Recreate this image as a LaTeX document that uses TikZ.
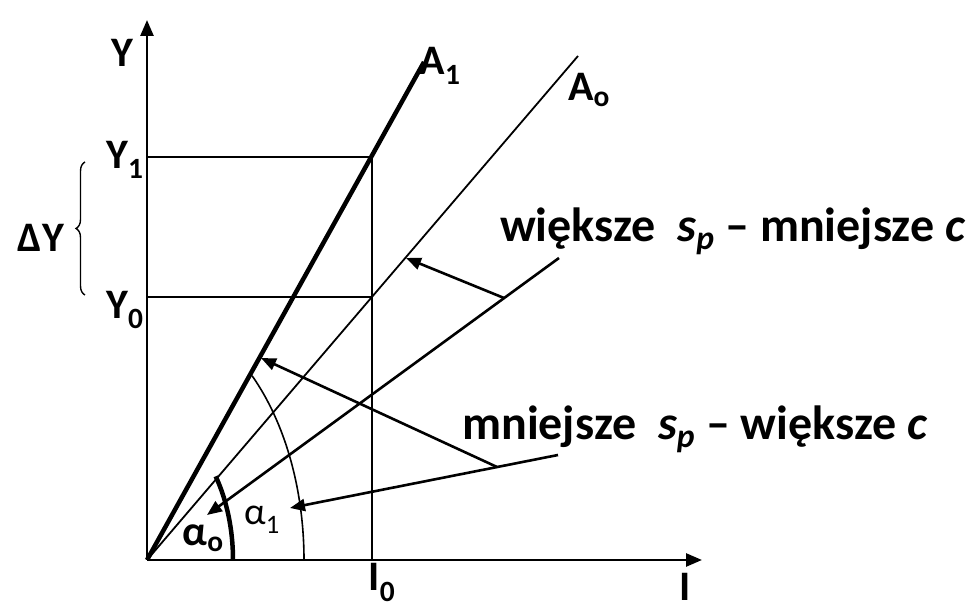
\documentclass[tikz,border=0pt]{standalone}
\usepackage{fontspec}
\setmainfont{Carlito}
\usetikzlibrary{arrows.meta,decorations.pathreplacing}

\begin{document}
\begin{tikzpicture}[x=1pt,y=1pt,
  font=\fontsize{42}{48}\selectfont\bfseries,
  axis/.style={line width=2.6pt,-{Triangle[length=16pt,width=13pt]}},
  guide/.style={line width=1.6pt},
  pointer/.style={line width=2.6pt,-{Triangle[length=15pt,width=12pt]}},
  lbl/.style={inner sep=0pt},
  remark/.style={lbl,anchor=base west,font=\fontsize{48}{54}\selectfont\bfseries}]
\useasboundingbox (-147,-52) rectangle (823,560);
% axes and points
\coordinate (O) at (0,0);
\coordinate (Ytop) at (0,540);
\coordinate (Xend) at (555,0);
\coordinate (A1top) at (277,498);
\coordinate (A0top) at (431,504);
\coordinate (Y1) at (0,403);
\coordinate (Y0) at (0,263);
\coordinate (P0) at (225,263);
\coordinate (I0) at (225,0);
\draw[axis] (O) -- (Ytop);
\draw[axis] (O) -- (Xend);
\draw[line width=4.5pt] (O) -- (A1top);
\draw[line width=1.8pt] (O) -- (A0top);
\draw[guide] (Y1) -| (I0);
\draw[guide] (Y0) -- (P0);
% pointer lines
\coordinate (upEnd) at (412,302);
\coordinate (upJoin) at (357,262);
\coordinate (upTip) at (60,45);
\coordinate (upHit) at (259,302);
\coordinate (lowEnd) at (411,105);
\coordinate (lowJoin) at (350,93);
\coordinate (lowTip) at (143,52);
\coordinate (lowHit) at (114,202);
\draw[pointer] (upEnd) -- (upTip);
\draw[pointer] (upJoin) -- (upHit);
\draw[pointer] (lowEnd) -- (lowTip);
\draw[pointer] (lowJoin) -- (lowHit);
% angles
\draw[line width=4.5pt] (86,0) arc[start angle=0,end angle=37,x radius=86pt,y radius=139pt];
\draw[line width=1.6pt] (157,0) arc[start angle=0,end angle=48,x radius=157pt,y radius=248pt];
% brace
\coordinate (brBot) at (-62,265);
\coordinate (brTop) at (-62,398);
\draw[line width=1.4pt,decorate,decoration={brace,amplitude=9pt}] (brBot) -- (brTop);
% labels
\node[lbl] (labY) at (-25,507) {Y};
\node[lbl] (labI) at (538,-27) {I};
\node[lbl,anchor=base] (labI0) at (235,-31) {I\textsubscript{0}};
\node[lbl] (labY1) at (-22,400) {Y\textsubscript{1}};
\node[lbl] (labY0) at (-22,250) {Y\textsubscript{0}};
\node[lbl] (labDY) at (-106,322) {ΔY};
\node[lbl] (labA1) at (293,494) {A\textsubscript{1}};
\node[lbl] (labA0) at (442,470) {A\textsubscript{o}};
\node[lbl] (labal0) at (56,22) {α\textsubscript{o}};
\node[lbl,font=\fontsize{38}{44}\selectfont] (labal1) at (115,40) {α\textsubscript{1}};
\node[remark] (txtUp) at (353,318) {większe\ \ \textit{s\textsubscript{p}} – mniejsze \textit{c}};
\node[remark] (txtLow) at (315,120) {mniejsze\ \ \textit{s\textsubscript{p}} – większe \textit{c}};
\end{tikzpicture}
\end{document}
